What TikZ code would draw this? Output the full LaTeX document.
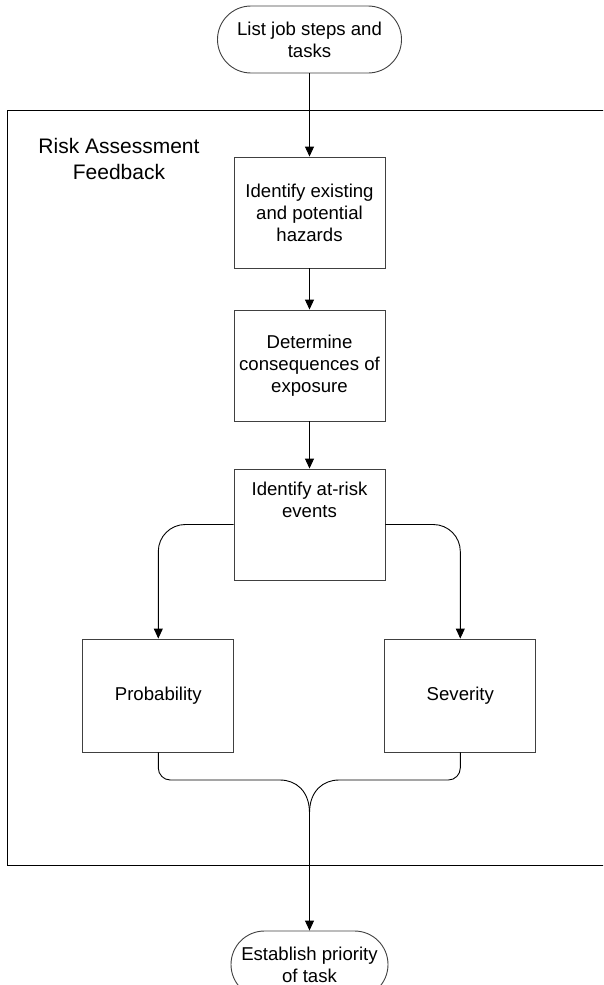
\documentclass[tikz,border=0pt]{standalone}
\usepackage{fontspec}
\setmainfont{Liberation Sans}
\usetikzlibrary{arrows.meta,shapes.misc}
\begin{document}
\begin{tikzpicture}[x=1pt,y=-1pt,
  txt/.style={font=\fontsize{18.6}{22}\selectfont, align=center, inner sep=0pt},
  stepbox/.style={draw=black!75, line width=0.9pt, minimum width=151pt, minimum height=111pt, inner sep=0pt},
  chancebox/.style={stepbox, minimum height=113pt},
  terminal/.style={rounded rectangle, draw=black!75, line width=0.9pt, minimum height=67pt, inner sep=0pt, txt},
  flow/.style={draw=black, line width=0.9pt, -{Triangle[length=10pt,width=9pt]}},
  link/.style={draw=black, line width=0.9pt},
]
\path[use as bounding box, clip] (0,0) rectangle (603,985);

% feedback frame (open towards the right)
\draw[line width=1pt] (612,110.5) -- (7,110.5) -- (7,865) -- (612,865);
\node[font=\fontsize{21}{26.5}\selectfont, align=center, inner sep=0pt] (framelabel) at (119,159) {Risk Assessment\\Feedback};

% terminals
\node[terminal, minimum width=184pt] (start) at (309.5,39.5) {List job steps and\\tasks};
\node[terminal, minimum width=157pt] (finish) at (309.5,964.5) {Establish priority\\of task};

% process steps
\node[stepbox, txt] (hazards) at (309.5,212.5) {Identify existing\\and potential\\hazards};
\node[stepbox, txt] (conseq) at (309.5,365.5) {Determine\\consequences of\\exposure};
\node[stepbox] (events) at (309.5,524.5) {};
\node[txt] (eventstext) at (309.5,500) {Identify at-risk\\events};
\node[chancebox, txt] (prob) at (158.3,695.5) {Probability};
\node[chancebox, txt] (sev) at (460.3,695.5) {Severity};

% connectors
\draw[flow] (start.south) -- (hazards.north);
\draw[flow] (hazards) -- (conseq);
\draw[flow] (conseq) -- (events);
\draw[flow, rounded corners=27pt] (events.west) -| (prob.north);
\draw[flow, rounded corners=27pt] (events.east) -| (sev.north);

\coordinate (join) at (309.5,813);
\draw[link] (prob.south) [rounded corners=12pt] |- (268,780) [sharp corners] .. controls (296,780) and (309.5,791) .. (join);
\draw[link] (sev.south) [rounded corners=12pt] |- (351,780) [sharp corners] .. controls (323,780) and (309.5,791) .. (join);
\draw[flow] (join) -- (finish.north);
\end{tikzpicture}
\end{document}
